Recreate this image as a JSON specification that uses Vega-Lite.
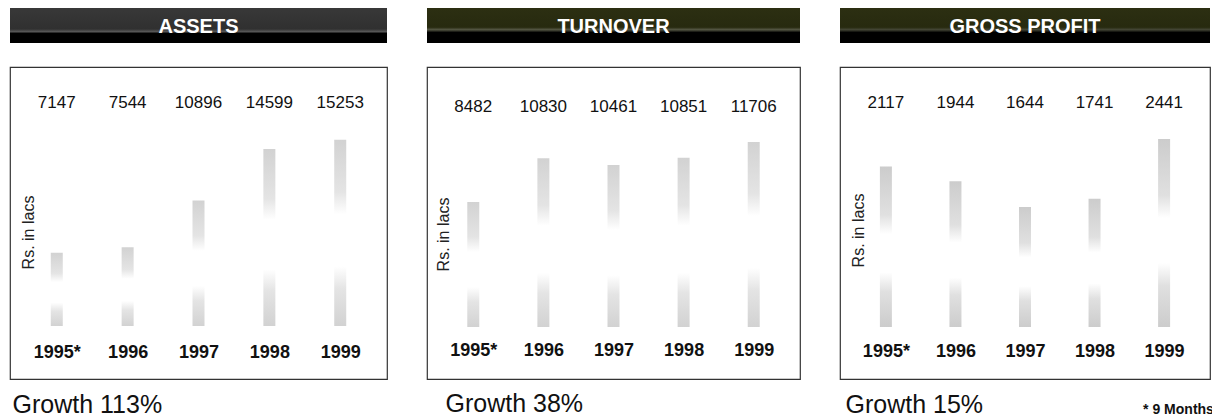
{
  "$schema": "https://vega.github.io/schema/vega-lite/v6.json",
  "background": "white",
  "padding": {"left": 9, "top": 8, "right": 0, "bottom": 0},
  "autosize": {"type": "pad"},
  "config": {"font": "Liberation Sans", "view": {"stroke": null}},
  "datasets": {
    "assets": [
      {"year": "1995*", "value": 7147},
      {"year": "1996", "value": 7544},
      {"year": "1997", "value": 10896},
      {"year": "1998", "value": 14599},
      {"year": "1999", "value": 15253}
    ],
    "turnover": [
      {"year": "1995*", "value": 8482},
      {"year": "1996", "value": 10830},
      {"year": "1997", "value": 10461},
      {"year": "1998", "value": 10851},
      {"year": "1999", "value": 11706}
    ],
    "gross": [
      {"year": "1995*", "value": 2117},
      {"year": "1996", "value": 1944},
      {"year": "1997", "value": 1644},
      {"year": "1998", "value": 1741},
      {"year": "1999", "value": 2441}
    ]
  },
  "spacing": 38,
  "resolve": {"scale": {"x": "independent", "y": "independent"}},
  "hconcat": [
    {
      "spacing": 23,
      "vconcat": [
        {
          "width": 377, "height": 35,
          "view": {"fill": "black", "stroke": null},
          "data": {"values": [{"title": "ASSETS"}]},
          "layer": [
            {"mark": {"type": "rect", "color": {"gradient": "linear", "x1": 0, "y1": 0, "x2": 0, "y2": 1, "stops": [{"offset": 0, "color": "#383838"}, {"offset": 0.6, "color": "#303030"}, {"offset": 0.68, "color": "#5a5a5a"}, {"offset": 0.72, "color": "#000000"}, {"offset": 1, "color": "#000000"}]}}, "encoding": {}},
            {"mark": {"type": "text", "color": "white", "fontSize": 20, "fontWeight": "bold", "dy": 1}, "encoding": {"text": {"field": "title", "type": "nominal"}}}
          ]
        },
        {
          "width": 377, "height": 312,
          "view": {"stroke": "#333333", "strokeWidth": 1.2},
          "data": {"name": "assets"},
          "encoding": {
            "x": {"field": "year", "type": "nominal", "sort": null, "scale": {"type": "point", "padding": 0.66},
              "axis": {"title": "Growth 113%", "titleFontSize": 25, "titleFontWeight": "normal", "titleColor": "#111111", "titleX": 2, "titleY": 33, "titleAlign": "left", "titleAnchor": "start", "titleBaseline": "alphabetic",
                "labelFontSize": 18, "labelFontWeight": "bold", "labelColor": "#111111", "labelPadding": -22, "labelBaseline": "alphabetic", "labelAngle": 0, "labelOverlap": false,
                "domain": false, "ticks": false, "tickSize": 0, "grid": false}}
          },
          "layer": [
            {
              "mark": {"type": "bar", "width": 12, "color": {"gradient": "linear", "x1": 0, "y1": 0, "x2": 0, "y2": 1, "stops": [{"offset": 0, "color": "#d2d2d2"}, {"offset": 0.28, "color": "#e4e4e4"}, {"offset": 0.4, "color": "#ffffff"}, {"offset": 0.68, "color": "#ffffff"}, {"offset": 0.8, "color": "#e4e4e4"}, {"offset": 1, "color": "#d2d2d2"}]}},
              "encoding": {
                "y": {"field": "value", "type": "quantitative", "scale": {"domain": [-1900, 20470], "nice": false, "zero": false},
                  "axis": {"title": "Rs. in lacs", "titleFontSize": 16, "titleFontWeight": "normal", "titleColor": "#222222", "titleX": 23, "titleY": 165, "titleAngle": -90, "titleAlign": "center", "titleBaseline": "alphabetic", "labels": false, "ticks": false, "domain": false, "grid": false}},
                "y2": {"datum": 1900}
              }
            },
            {
              "mark": {"type": "text", "fontSize": 17, "color": "#111111"},
              "encoding": {
                "y": {"datum": 17889, "type": "quantitative"},
                "text": {"field": "value", "type": "quantitative", "format": "d"}
              }
            }
          ]
        }
      ]
    },
    {
      "spacing": 23,
      "vconcat": [
        {
          "width": 373, "height": 35,
          "view": {"fill": "black", "stroke": null},
          "data": {"values": [{"title": "TURNOVER"}]},
          "layer": [
            {"mark": {"type": "rect", "color": {"gradient": "linear", "x1": 0, "y1": 0, "x2": 0, "y2": 1, "stops": [{"offset": 0, "color": "#2c2f12"}, {"offset": 0.55, "color": "#272a0f"}, {"offset": 0.62, "color": "#555744"}, {"offset": 0.7, "color": "#000000"}, {"offset": 1, "color": "#000000"}]}}, "encoding": {}},
            {"mark": {"type": "text", "color": "white", "fontSize": 20, "fontWeight": "bold", "dy": 1}, "encoding": {"text": {"field": "title", "type": "nominal"}}}
          ]
        },
        {
          "width": 373, "height": 312,
          "view": {"stroke": "#333333", "strokeWidth": 1.2},
          "data": {"name": "turnover"},
          "encoding": {
            "x": {"field": "year", "type": "nominal", "sort": null, "scale": {"type": "point", "padding": 0.66},
              "axis": {"title": "Growth 38%", "titleFontSize": 25, "titleFontWeight": "normal", "titleColor": "#111111", "titleX": 18, "titleY": 32, "titleAlign": "left", "titleAnchor": "start", "titleBaseline": "alphabetic",
                "labelFontSize": 18, "labelFontWeight": "bold", "labelColor": "#111111", "labelPadding": -24, "labelBaseline": "alphabetic", "labelAngle": 0, "labelOverlap": false,
                "domain": false, "ticks": false, "tickSize": 0, "grid": false}}
          },
          "layer": [
            {
              "mark": {"type": "bar", "width": 12, "color": {"gradient": "linear", "x1": 0, "y1": 0, "x2": 0, "y2": 1, "stops": [{"offset": 0, "color": "#d2d2d2"}, {"offset": 0.28, "color": "#e4e4e4"}, {"offset": 0.4, "color": "#ffffff"}, {"offset": 0.68, "color": "#ffffff"}, {"offset": 0.8, "color": "#e4e4e4"}, {"offset": 1, "color": "#d2d2d2"}]}},
              "encoding": {
                "y": {"field": "value", "type": "quantitative", "scale": {"domain": [-1027, 15727], "nice": false, "zero": false},
                  "axis": {"title": "Rs. in lacs", "titleFontSize": 16, "titleFontWeight": "normal", "titleColor": "#222222", "titleX": 21, "titleY": 167, "titleAngle": -90, "titleAlign": "center", "titleBaseline": "alphabetic", "labels": false, "ticks": false, "domain": false, "grid": false}},
                "y2": {"datum": 1765}
              }
            },
            {
              "mark": {"type": "text", "fontSize": 17, "color": "#111111"},
              "encoding": {
                "y": {"datum": 13579, "type": "quantitative"},
                "text": {"field": "value", "type": "quantitative", "format": "d"}
              }
            }
          ]
        }
      ]
    },
    {
      "spacing": 23,
      "vconcat": [
        {
          "width": 370, "height": 35,
          "view": {"fill": "black", "stroke": null},
          "data": {"values": [{"title": "GROSS PROFIT"}]},
          "layer": [
            {"mark": {"type": "rect", "color": {"gradient": "linear", "x1": 0, "y1": 0, "x2": 0, "y2": 1, "stops": [{"offset": 0, "color": "#2c2f12"}, {"offset": 0.55, "color": "#272a0f"}, {"offset": 0.62, "color": "#444636"}, {"offset": 0.7, "color": "#000000"}, {"offset": 1, "color": "#000000"}]}}, "encoding": {}},
            {"mark": {"type": "text", "color": "white", "fontSize": 20, "fontWeight": "bold", "dy": 1}, "encoding": {"text": {"field": "title", "type": "nominal"}}}
          ]
        },
        {
          "width": 370, "height": 312,
          "view": {"stroke": "#333333", "strokeWidth": 1.2},
          "data": {"name": "gross"},
          "encoding": {
            "x": {"field": "year", "type": "nominal", "sort": null, "scale": {"type": "point", "padding": 0.66},
              "axis": {"title": "Growth 15%", "titleFontSize": 25, "titleFontWeight": "normal", "titleColor": "#111111", "titleX": 5, "titleY": 33, "titleAlign": "left", "titleAnchor": "start", "titleBaseline": "alphabetic",
                "labelFontSize": 18, "labelFontWeight": "bold", "labelColor": "#111111", "labelPadding": -23, "labelBaseline": "alphabetic", "labelAngle": 0, "labelOverlap": false,
                "domain": false, "ticks": false, "tickSize": 0, "grid": false}}
          },
          "layer": [
            {
              "mark": {"type": "bar", "width": 12, "color": {"gradient": "linear", "x1": 0, "y1": 0, "x2": 0, "y2": 1, "stops": [{"offset": 0, "color": "#cccccc"}, {"offset": 0.3, "color": "#e0e0e0"}, {"offset": 0.42, "color": "#ffffff"}, {"offset": 0.66, "color": "#ffffff"}, {"offset": 0.78, "color": "#e0e0e0"}, {"offset": 1, "color": "#cccccc"}]}},
              "encoding": {
                "y": {"field": "value", "type": "quantitative", "scale": {"domain": [-372, 3284], "nice": false, "zero": false},
                  "axis": {"title": "Rs. in lacs", "titleFontSize": 16, "titleFontWeight": "normal", "titleColor": "#222222", "titleX": 23, "titleY": 163, "titleAngle": -90, "titleAlign": "center", "titleBaseline": "alphabetic", "labels": false, "ticks": false, "domain": false, "grid": false}},
                "y2": {"datum": 237}
              }
            },
            {
              "mark": {"type": "text", "fontSize": 17, "color": "#111111"},
              "encoding": {
                "y": {"datum": 2862, "type": "quantitative"},
                "text": {"field": "value", "type": "quantitative", "format": "d"}
              }
            },
            {
              "data": {"values": [{"year": "1999", "note": "* 9 Months"}]},
              "mark": {"type": "text", "fontSize": 14, "fontWeight": "bold", "color": "#111111", "align": "left", "baseline": "alphabetic", "dx": -21},
              "encoding": {
                "y": {"datum": -782, "type": "quantitative"},
                "text": {"field": "note", "type": "nominal"}
              }
            }
          ]
        }
      ]
    }
  ]
}
